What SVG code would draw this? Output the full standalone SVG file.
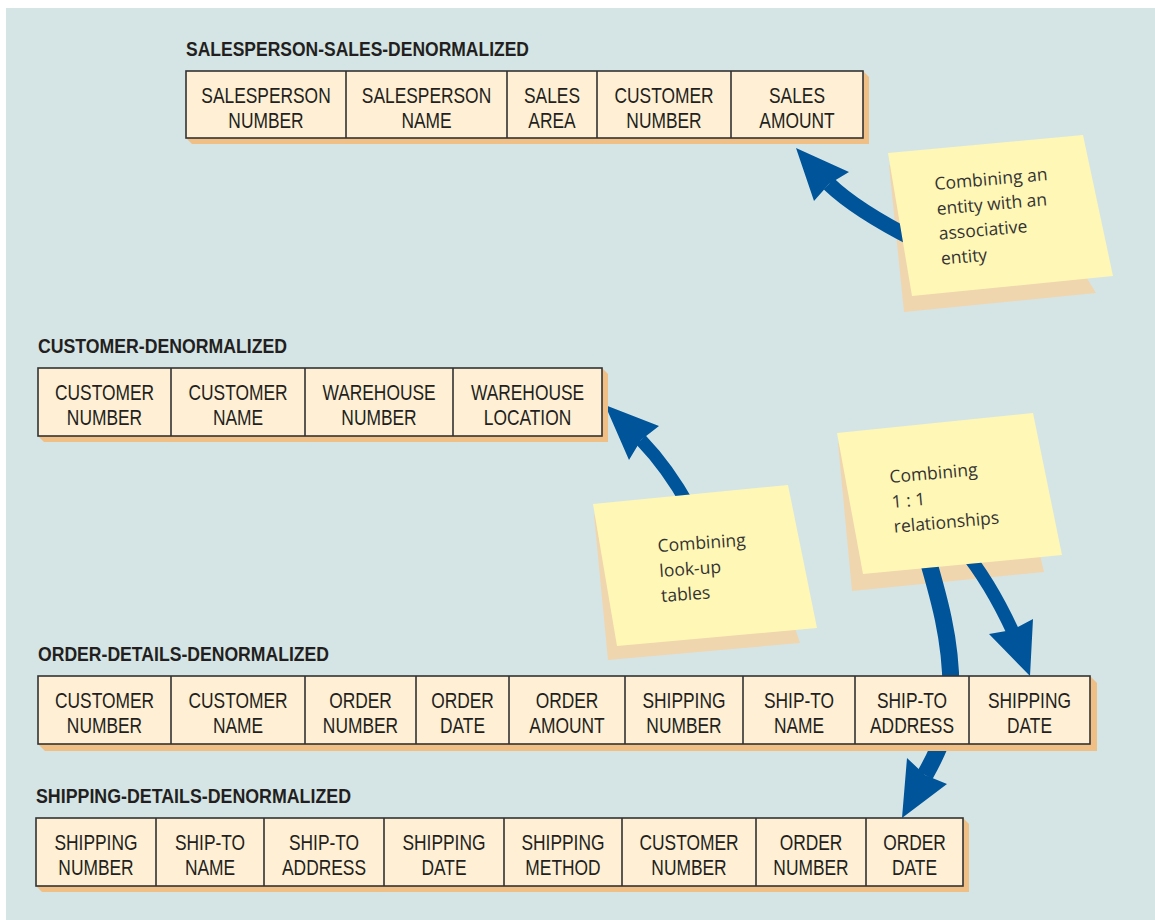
<svg xmlns="http://www.w3.org/2000/svg" width="1155" height="920" viewBox="0 0 1155 920">
<defs>
<style>
.tbl{fill:#fff0d5;stroke:#333;stroke-width:1.6}
.shd{fill:#f0bf86}
.div{stroke:#333;stroke-width:1.6}
.ttl{font-family:"Liberation Sans",Arial,sans-serif;font-weight:bold;font-size:20px;fill:#231f20}
.c{font-family:"Liberation Sans",Arial,sans-serif;font-size:22px;fill:#231f20;text-anchor:middle}
.nt{fill:#fff7b5}
.ns{fill:#efd6ae}
.nx{font-family:"Open Sans","Noto Sans",sans-serif;font-size:17.5px;fill:#333}
.sh{fill:none;stroke:#00559a;stroke-linecap:butt}
.hd{fill:#00559a}
</style>
<clipPath id="noteclip">
<path clip-rule="evenodd" d="M0 0H1155V920H0Z M888 153L1083 135L1113 276L912 296Z M593 504L788 485L817 628L617 646Z M837 433L1033 413L1062 555L863 574Z"/>
</clipPath>
</defs>
<rect x="0" y="0" width="1155" height="920" fill="#ffffff"/>
<rect x="6" y="8" width="1149" height="912" fill="#d5e5e5"/>

<g id="note-associative">
<polygon class="ns" points="889,165 1085,275 1096,293 904,312"/>
<polygon class="nt" points="888,153 1083,135 1113,276 912,296"/>
<text class="nx" transform="translate(935,190) rotate(-5)"><tspan x="0" y="0">Combining an</tspan><tspan x="0" y="25">entity with an</tspan><tspan x="0" y="50">associative</tspan><tspan x="0" y="75">entity</tspan></text>
</g>
<g id="note-lookup">
<polygon class="ns" points="594,515 795,628 800,643 608,660"/>
<polygon class="nt" points="593,504 788,485 817,628 617,646"/>
<text class="nx" transform="translate(658,552) rotate(-4)"><tspan x="0" y="0">Combining</tspan><tspan x="0" y="25">look-up</tspan><tspan x="0" y="50">tables</tspan></text>
</g>
<g id="note-oneone">
<polygon class="ns" points="838,443 1040,555 1044,572 852,591"/>
<polygon class="nt" points="837,433 1033,413 1062,555 863,574"/>
<text class="nx" transform="translate(890,483) rotate(-5)"><tspan x="0" y="0">Combining</tspan><tspan x="0" y="25">1 : 1</tspan><tspan x="0" y="50">relationships</tspan></text>
</g>

<g id="connectors" clip-path="url(#noteclip)">
<path class="sh" stroke-width="15" d="M829 184 Q856 210 915 240"/>
<polygon class="hd" points="796,148 849,172 829,184 814,201"/>
<path class="sh" stroke-width="13" d="M641 440 Q668 468 690 508"/>
<polygon class="hd" points="605,405 659,426 641,440 629,460"/>
<path class="sh" stroke-width="17" d="M922 540 C940 600 951 640 951 690 C951 720 942 745 925 775"/>
<polygon class="hd" points="902,818 907,758 925,775 947,784"/>
<path class="sh" stroke-width="13" d="M962 548 Q990 582 1013 632"/>
<polygon class="hd" points="1030,676 989,634 1012,630 1033,619"/>
</g>

<g id="salesperson-sales-denormalized">
<text class="ttl" x="186" y="56" textLength="343" lengthAdjust="spacingAndGlyphs">SALESPERSON-SALES-DENORMALIZED</text>
<polygon class="shd" points="863,71 869,77 869,144 192,144 186,138"/>
<rect class="tbl" x="186" y="71" width="677" height="67"/>
<path class="div" d="M346 71V138M507 71V138M597 71V138M731 71V138"/>
<text class="c" transform="translate(266,0) scale(.79,1)"><tspan x="0" y="103">SALESPERSON</tspan><tspan x="0" y="128">NUMBER</tspan></text>
<text class="c" transform="translate(426.5,0) scale(.79,1)"><tspan x="0" y="103">SALESPERSON</tspan><tspan x="0" y="128">NAME</tspan></text>
<text class="c" transform="translate(552,0) scale(.79,1)"><tspan x="0" y="103">SALES</tspan><tspan x="0" y="128">AREA</tspan></text>
<text class="c" transform="translate(664,0) scale(.79,1)"><tspan x="0" y="103">CUSTOMER</tspan><tspan x="0" y="128">NUMBER</tspan></text>
<text class="c" transform="translate(797,0) scale(.79,1)"><tspan x="0" y="103">SALES</tspan><tspan x="0" y="128">AMOUNT</tspan></text>
</g>

<g id="customer-denormalized">
<text class="ttl" x="38" y="353" textLength="249" lengthAdjust="spacingAndGlyphs">CUSTOMER-DENORMALIZED</text>
<polygon class="shd" points="602,368 608,374 608,442 44,442 38,436"/>
<rect class="tbl" x="38" y="368" width="564" height="68"/>
<path class="div" d="M171 368V436M305 368V436M453 368V436"/>
<text class="c" transform="translate(104.5,0) scale(.79,1)"><tspan x="0" y="400">CUSTOMER</tspan><tspan x="0" y="425">NUMBER</tspan></text>
<text class="c" transform="translate(238,0) scale(.79,1)"><tspan x="0" y="400">CUSTOMER</tspan><tspan x="0" y="425">NAME</tspan></text>
<text class="c" transform="translate(379,0) scale(.79,1)"><tspan x="0" y="400">WAREHOUSE</tspan><tspan x="0" y="425">NUMBER</tspan></text>
<text class="c" transform="translate(527.5,0) scale(.79,1)"><tspan x="0" y="400">WAREHOUSE</tspan><tspan x="0" y="425">LOCATION</tspan></text>
</g>

<g id="order-details-denormalized">
<text class="ttl" x="38" y="661" textLength="291" lengthAdjust="spacingAndGlyphs">ORDER-DETAILS-DENORMALIZED</text>
<polygon class="shd" points="1090,676 1097,683 1097,751 45,751 38,744"/>
<rect class="tbl" x="38" y="676" width="1052" height="68"/>
<path class="div" d="M171 676V744M305 676V744M416 676V744M509 676V744M625 676V744M743 676V744M855 676V744M969 676V744"/>
<text class="c" transform="translate(104.5,0) scale(.79,1)"><tspan x="0" y="708">CUSTOMER</tspan><tspan x="0" y="733">NUMBER</tspan></text>
<text class="c" transform="translate(238,0) scale(.79,1)"><tspan x="0" y="708">CUSTOMER</tspan><tspan x="0" y="733">NAME</tspan></text>
<text class="c" transform="translate(360.5,0) scale(.79,1)"><tspan x="0" y="708">ORDER</tspan><tspan x="0" y="733">NUMBER</tspan></text>
<text class="c" transform="translate(462.5,0) scale(.79,1)"><tspan x="0" y="708">ORDER</tspan><tspan x="0" y="733">DATE</tspan></text>
<text class="c" transform="translate(567,0) scale(.79,1)"><tspan x="0" y="708">ORDER</tspan><tspan x="0" y="733">AMOUNT</tspan></text>
<text class="c" transform="translate(684,0) scale(.79,1)"><tspan x="0" y="708">SHIPPING</tspan><tspan x="0" y="733">NUMBER</tspan></text>
<text class="c" transform="translate(799,0) scale(.79,1)"><tspan x="0" y="708">SHIP-TO</tspan><tspan x="0" y="733">NAME</tspan></text>
<text class="c" transform="translate(912,0) scale(.79,1)"><tspan x="0" y="708">SHIP-TO</tspan><tspan x="0" y="733">ADDRESS</tspan></text>
<text class="c" transform="translate(1029.5,0) scale(.79,1)"><tspan x="0" y="708">SHIPPING</tspan><tspan x="0" y="733">DATE</tspan></text>
</g>

<g id="shipping-details-denormalized">
<text class="ttl" x="36" y="803" textLength="315" lengthAdjust="spacingAndGlyphs">SHIPPING-DETAILS-DENORMALIZED</text>
<polygon class="shd" points="963,818 969,824 969,892 42,892 36,886"/>
<rect class="tbl" x="36" y="818" width="927" height="68"/>
<path class="div" d="M156 818V886M264 818V886M384 818V886M504 818V886M622 818V886M756 818V886M866 818V886"/>
<text class="c" transform="translate(96,0) scale(.79,1)"><tspan x="0" y="850">SHIPPING</tspan><tspan x="0" y="875">NUMBER</tspan></text>
<text class="c" transform="translate(210,0) scale(.79,1)"><tspan x="0" y="850">SHIP-TO</tspan><tspan x="0" y="875">NAME</tspan></text>
<text class="c" transform="translate(324,0) scale(.79,1)"><tspan x="0" y="850">SHIP-TO</tspan><tspan x="0" y="875">ADDRESS</tspan></text>
<text class="c" transform="translate(444,0) scale(.79,1)"><tspan x="0" y="850">SHIPPING</tspan><tspan x="0" y="875">DATE</tspan></text>
<text class="c" transform="translate(563,0) scale(.79,1)"><tspan x="0" y="850">SHIPPING</tspan><tspan x="0" y="875">METHOD</tspan></text>
<text class="c" transform="translate(689,0) scale(.79,1)"><tspan x="0" y="850">CUSTOMER</tspan><tspan x="0" y="875">NUMBER</tspan></text>
<text class="c" transform="translate(811,0) scale(.79,1)"><tspan x="0" y="850">ORDER</tspan><tspan x="0" y="875">NUMBER</tspan></text>
<text class="c" transform="translate(914.5,0) scale(.79,1)"><tspan x="0" y="850">ORDER</tspan><tspan x="0" y="875">DATE</tspan></text>
</g>
</svg>
